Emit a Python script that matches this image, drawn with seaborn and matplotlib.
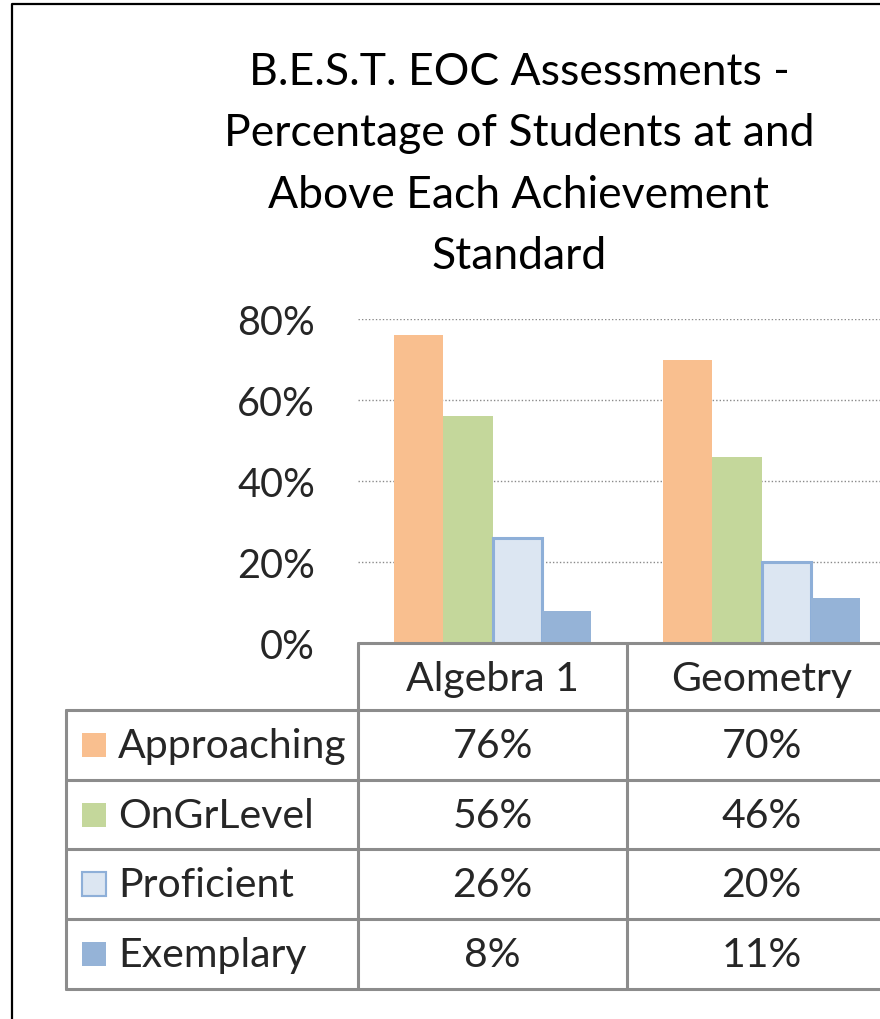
import numpy as np
import pandas as pd
import matplotlib
matplotlib.use("Agg")
import matplotlib.pyplot as plt
from matplotlib.patches import Rectangle
import seaborn as sns

# data
subjects = ["Algebra 1", "Geometry"]
levels = ["Approaching", "OnGrLevel", "Proficient", "Exemplary"]
algebra_pct = [76, 56, 26, 8]
geometry_pct = [70, 46, 20, 11]
y_ticks = [0, 20, 40, 60, 80]
title = "B.E.S.T. EOC Assessments -\nPercentage of Students at and\nAbove Each Achievement\nStandard"

fill_colors = ["#F9BF8F", "#C4D79B", "#DCE6F2", "#95B3D7"]
edge_colors = ["#F9BF8F", "#C4D79B", "#8EAFD8", "#95B3D7"]
edge_widths = [0, 0, 2.2, 0]

df = pd.DataFrame({
    "subject": np.repeat(subjects, len(levels)),
    "level": levels * len(subjects),
    "pct": algebra_pct + geometry_pct,
})

sns.set_theme(style="white")
plt.rcParams["font.family"] = ["Lato", "DejaVu Sans"]

W, H = 880, 1020
fig = plt.figure(figsize=(W / 100, H / 100), dpi=100)
fig.patch.set_facecolor("white")

# plot area in pixel layout (runs past the right edge like the original)
left, right, top, bottom = 358, 896, 320, 644
ax = fig.add_axes([left / W, 1 - bottom / H, (right - left) / W, (bottom - top) / H])
sns.barplot(data=df, x="subject", y="pct", hue="level", hue_order=levels,
            palette=fill_colors, saturation=1, width=0.736, gap=0,
            legend=False, ax=ax, zorder=3)
for cont, ec, lw in zip(ax.containers, edge_colors, edge_widths):
    for bar in cont:
        bar.set_edgecolor(ec)
        bar.set_linewidth(lw)

ax.set_ylim(0, 80)
ax.set_xlim(-0.5, len(subjects) - 0.5)
ax.set_yticks(y_ticks)
ax.set_yticklabels([f"{v}%" for v in y_ticks], fontsize=28.5)
ax.tick_params(axis="y", length=0, pad=31)
ax.set_xticks([])
ax.set_xlabel("")
ax.set_ylabel("")
for s in ax.spines.values():
    s.set_visible(False)
ax.yaxis.grid(True, linestyle=(0, (1, 1.5)), color="#8a8a8a", linewidth=1.0)
ax.set_axisbelow(True)

fig.text(519 / W, 1 - 52 / H, title, ha="center", va="top", fontsize=32,
         linespacing=1.62, color="black")

# data table drawn in pixel coordinates under the bars
tab = fig.add_axes([0, 0, 1, 1])
tab.set_xlim(0, W)
tab.set_ylim(H, 0)
tab.axis("off")
tab.patch.set_alpha(0)

def col_px(x):
    return ax.transData.transform((x, 0))[0]

grid_col = "#8c8c8c"
lw = 2.2
row_edges = [644, 711, 781, 850, 920, 990]
label_left = 66
col_edges = [col_px(i - 0.5) for i in range(len(subjects) + 1)]

tab.plot([col_edges[0], W + 30], [row_edges[0]] * 2, color=grid_col, lw=lw)
for y in row_edges[1:]:
    tab.plot([label_left, W + 30], [y, y], color=grid_col, lw=lw)
for x in col_edges:
    tab.plot([x, x], [row_edges[0], row_edges[-1]], color=grid_col, lw=lw)
tab.plot([label_left, label_left], [row_edges[1], row_edges[-1]], color=grid_col, lw=lw)

table_fs = 29.5
# header
for i, name in enumerate(subjects):
    tab.text(col_px(i), (row_edges[0] + row_edges[1]) / 2 + 2, name,
             ha="center", va="center", fontsize=table_fs)

values = [algebra_pct, geometry_pct]
for r, lev in enumerate(levels):
    yc = (row_edges[r + 1] + row_edges[r + 2]) / 2
    tab.add_patch(Rectangle((82, yc - 12), 24, 24, facecolor=fill_colors[r],
                            edgecolor=edge_colors[r], linewidth=edge_widths[r] * 0.7))
    tab.text(118, yc + 1, lev, ha="left", va="center", fontsize=table_fs)
    for i in range(len(subjects)):
        tab.text(col_px(i), yc + 1, f"{values[i][r]}%", ha="center",
                 va="center", fontsize=table_fs)

# outer chart frame
tab.plot([12, 12, W + 10], [H + 10, 5, 5], color="black", lw=1.6, clip_on=False)

fig.savefig("out.png", dpi=100)
